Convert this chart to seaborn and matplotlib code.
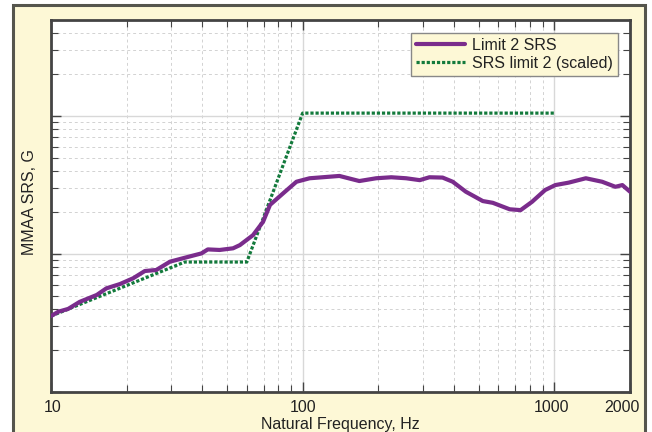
import matplotlib
matplotlib.use("Agg")
import matplotlib.pyplot as plt
import matplotlib.patches as mpatches
import matplotlib.transforms as mtransforms
from matplotlib.ticker import LogLocator, NullFormatter, FixedLocator, FixedFormatter
import numpy as np
import pandas as pd
import seaborn as sns

# ---- data ----
srs_freq = [10, 10.7, 11.7, 13.0, 15.2, 16.6, 18.8, 21.2, 23.6, 26.2, 29.7, 34.5, 39.6, 42,
            46.8, 52.9, 56.3, 63.5, 69.6, 74.2, 83.6, 94.5, 106.6, 120, 140, 168, 196, 225,
            258, 292, 319, 360, 395, 445, 520, 570, 665, 735, 816, 920, 1010, 1140, 1335,
            1550, 1750, 1865, 2000]
srs_vals = [0.355, 0.382, 0.40, 0.45, 0.505, 0.564, 0.606, 0.667, 0.753, 0.766, 0.88, 0.946, 1.01, 1.08,
            1.07, 1.10, 1.16, 1.37, 1.71, 2.27, 2.75, 3.34, 3.54, 3.60, 3.68, 3.38, 3.54, 3.60,
            3.54, 3.43, 3.60, 3.58, 3.34, 2.83, 2.42, 2.35, 2.11, 2.08, 2.39, 2.91, 3.16, 3.29, 3.54,
            3.34, 3.07, 3.16, 2.83]
lim_freq = [10, 34, 60, 100, 1000]
lim_vals = [0.355, 0.875, 0.875, 10.5, 10.5]
series_names = ["Limit 2 SRS", "SRS limit 2 (scaled)"]
x_tick_vals = [10, 100, 1000, 2000]
x_tick_labels = ["10", "100", "1000", "2000"]

df1 = pd.DataFrame({"f": srs_freq, "v": srs_vals})
df2 = pd.DataFrame({"f": lim_freq, "v": lim_vals})

sns.set_theme(style="white")
plt.rcParams['font.family'] = ['Liberation Sans', 'DejaVu Sans']

W, H = 652, 432
fig = plt.figure(figsize=(W / 100, H / 100), dpi=100)
fig.patch.set_facecolor("white")
bg = "#fdf8d6"
frame = mpatches.Rectangle((13 / W, -0.05), (645 - 13) / W, 1.05 - 5 / H, transform=fig.transFigure,
                           facecolor=bg, edgecolor="#55554d", linewidth=2.2, zorder=-10)
fig.patches.append(frame)

ax = fig.add_axes([51 / W, (H - 392) / H, (630 - 51) / W, (392 - 20) / H])
ax.set_zorder(1)
ax.set_facecolor("white")

purple = "#7a2c8c"
green = "#137a3c"
sns.lineplot(data=df1, x="f", y="v", ax=ax, color=purple, linewidth=3.0, label=series_names[0],
             zorder=4, solid_joinstyle="round")
sns.lineplot(data=df2, x="f", y="v", ax=ax, color=green, linewidth=2.3, label=series_names[1],
             zorder=3, dashes=False)
ax.lines[1].set_linestyle((0, (1.0, 0.6)))
ax.lines[1].set_dash_capstyle("butt")

ax.set_xscale("log")
ax.set_yscale("log")
ax.set_xlim(10, 2000)
ax.set_ylim(0.1, 10 ** 1.696)

ax.xaxis.set_major_locator(FixedLocator(x_tick_vals))
ax.xaxis.set_major_formatter(FixedFormatter(x_tick_labels))
ax.xaxis.set_minor_locator(LogLocator(base=10, subs=np.arange(2, 10), numticks=20))
ax.xaxis.set_minor_formatter(NullFormatter())
ax.yaxis.set_major_locator(LogLocator(base=10, numticks=10))
ax.yaxis.set_minor_locator(LogLocator(base=10, subs=np.arange(2, 10), numticks=20))
ax.yaxis.set_major_formatter(NullFormatter())
ax.yaxis.set_minor_formatter(NullFormatter())

ax.tick_params(which="both", direction="in", top=True, right=True, left=True, bottom=True,
               colors="#444444", labelcolor="#222222")
ax.tick_params(which="major", length=7, width=1.0, labelsize=11.5, pad=6)
ax.tick_params(which="minor", length=5, width=0.8)
ax.tick_params(axis="y", which="both", pad=0)

ax.grid(which="major", color="#d8d8d8", linewidth=1.0, linestyle="-", zorder=1)
ax.grid(which="minor", color="#d2d2d2", linewidth=0.7, linestyle=(0, (3, 3)), zorder=1)
ax.set_axisbelow(True)

for s in ax.spines.values():
    s.set_color("#444444")
    s.set_linewidth(2.0)

ax.set_xlabel("Natural Frequency, Hz", fontsize=11.5, color="#222222", labelpad=1)
ax.set_ylabel("MMAA SRS, G", fontsize=11.5, color="#222222", labelpad=0)
ax.yaxis.set_label_coords(-14 / 579, 0.51)

# shift the last tick label slightly left, as in the reference
fig.canvas.draw()
for lbl in ax.get_xticklabels():
    if lbl.get_text() == "2000":
        lbl.set_transform(lbl.get_transform() + mtransforms.ScaledTranslation(-8 / 100, 0, fig.dpi_scale_trans))
    elif lbl.get_text() == "1000":
        lbl.set_transform(lbl.get_transform() + mtransforms.ScaledTranslation(-3 / 100, 0, fig.dpi_scale_trans))
    elif lbl.get_text() == "10":
        lbl.set_transform(lbl.get_transform() + mtransforms.ScaledTranslation(2 / 100, 0, fig.dpi_scale_trans))

leg = ax.legend(loc="upper right", bbox_to_anchor=((618 - 51) / 579, (392 - 33) / 372),
                borderaxespad=0, fontsize=11.5, frameon=True, fancybox=False,
                handlelength=3.1, handletextpad=0.45, borderpad=0.3, labelspacing=0.2)
fr = leg.get_frame()
fr.set_facecolor(bg)
fr.set_edgecolor("#888888")
fr.set_linewidth(1.0)
fr.set_alpha(1)
for t in leg.get_texts():
    t.set_color("#222222")

fig.savefig("out.png", dpi=100, facecolor=fig.get_facecolor())
